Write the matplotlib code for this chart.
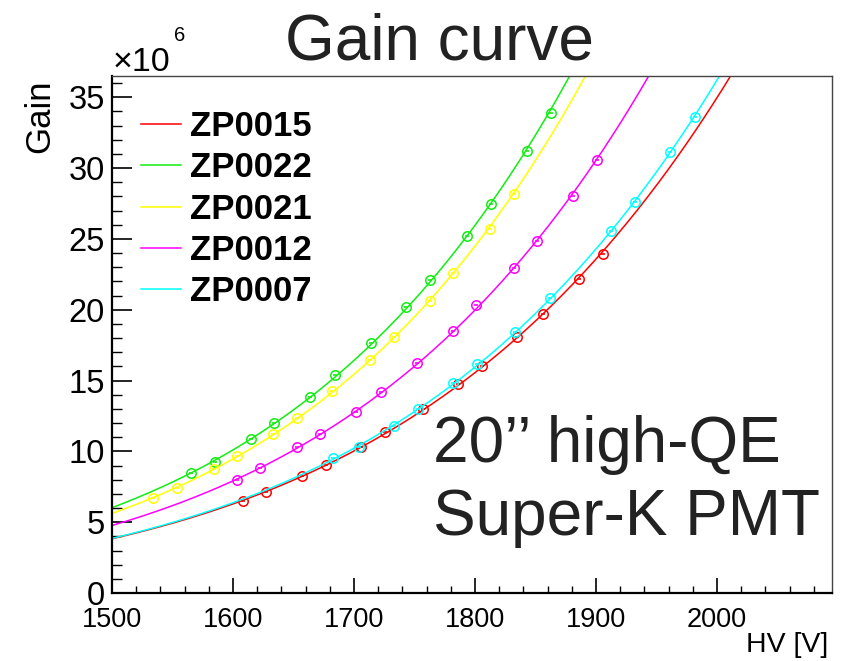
# PMT gain curves (gain vs HV) with power-law fits

import numpy as np
import matplotlib.pyplot as plt
from matplotlib.ticker import MultipleLocator

plt.rcParams['font.family'] = ['Liberation Sans', 'DejaVu Sans']

# data (gain in units of 1e6)
names = ['ZP0015', 'ZP0022', 'ZP0021', 'ZP0012', 'ZP0007']
colors = ['#ff0000', '#11ee11', '#ffff00', '#ff00ff', '#00ffff']

hv_zp0015 = [1608, 1627, 1657, 1677, 1706, 1726, 1757, 1786, 1806, 1835, 1856, 1886, 1906]
gain_zp0015 = [6.49, 7.11, 8.26, 9.05, 10.28, 11.34, 13.01, 14.73, 16.04, 18.09, 19.67, 22.14, 23.96]

hv_zp0022 = [1565, 1585, 1615, 1634, 1664, 1684, 1714, 1743, 1763, 1793, 1813, 1843, 1863]
gain_zp0022 = [8.45, 9.27, 10.89, 11.97, 13.81, 15.36, 17.62, 20.18, 22.09, 25.22, 27.43, 31.24, 33.92]

hv_zp0021 = [1534, 1554, 1584, 1603, 1633, 1653, 1682, 1713, 1733, 1763, 1782, 1812, 1832]
gain_zp0021 = [6.68, 7.43, 8.73, 9.67, 11.20, 12.37, 14.28, 16.44, 18.09, 20.63, 22.56, 25.72, 28.14]

hv_zp0012 = [1603, 1622, 1653, 1672, 1702, 1722, 1752, 1782, 1801, 1832, 1851, 1881, 1901]
gain_zp0012 = [7.97, 8.80, 10.28, 11.20, 12.75, 14.21, 16.23, 18.49, 20.30, 22.92, 24.82, 28.02, 30.58]

hv_zp0007 = [1683, 1704, 1733, 1753, 1782, 1802, 1833, 1862, 1912, 1932, 1961, 1982]
gain_zp0007 = [9.51, 10.32, 11.81, 12.96, 14.80, 16.16, 18.40, 20.80, 25.58, 27.61, 31.10, 33.61]

series = [(hv_zp0015, gain_zp0015), (hv_zp0022, gain_zp0022), (hv_zp0021, gain_zp0021),
          (hv_zp0012, gain_zp0012), (hv_zp0007, gain_zp0007)]

fig = plt.figure(figsize=(8.42, 6.61), dpi=100)
ax = fig.add_axes([112/842, 68/661, 720/842, 517/661])

hv_fine = np.linspace(1500, 2095, 400)
for (hv, gain), name, col in zip(series, names, colors):
    hv = np.array(hv, dtype=float)
    gain = np.array(gain)
    # power-law fit  G = a * HV^n
    n, loga = np.polyfit(np.log(hv), np.log(gain), 1)
    ax.plot(hv_fine, np.exp(loga) * hv_fine**n, '-', color=col, lw=1.1, label=name)
    ax.plot(hv, gain, 'o', mfc='none', mec=col, mew=1.1, ms=6.8)
    ax.plot(hv, gain, '_', color=col, ms=3, mew=1.2)

ax.set_xlim(1500, 2095)
ax.set_ylim(0, 36.5)
ax.xaxis.set_major_locator(MultipleLocator(100))
ax.xaxis.set_minor_locator(MultipleLocator(20))
ax.yaxis.set_major_locator(MultipleLocator(5))
ax.yaxis.set_minor_locator(MultipleLocator(1))
ax.tick_params(axis='x', which='major', direction='in', length=10.8, width=1.2, labelsize=19.5, pad=10)
ax.tick_params(axis='x', which='minor', direction='in', length=5, width=1.0)
ax.tick_params(axis='y', which='major', direction='in', length=14.4, width=1.2, labelsize=23.5, pad=5)
ax.tick_params(axis='y', which='minor', direction='in', length=7.2, width=1.0)
for s in ['left', 'bottom']:
    ax.spines[s].set_linewidth(1.6)
for s in ['top', 'right']:
    ax.spines[s].set_linewidth(1.0)
    ax.spines[s].set_color('#444444')

leg = ax.legend(loc='upper left', bbox_to_anchor=(141/842, 1 - 110/661), bbox_transform=fig.transFigure,
                frameon=False, prop={'weight': 'bold', 'size': 25}, handlelength=1.15,
                handletextpad=0.25, labelspacing=0.24, borderpad=0, borderaxespad=0)

fig.text(439.5/842, 1 - 60/661, 'Gain curve', ha='center', va='baseline', size=46, color='#222222')
fig.text(113/842, 1 - 71/661, '×10', ha='left', va='baseline', size=24.5)
fig.text(174/842, 1 - 41/661, '6', ha='left', va='baseline', size=14.5)
fig.text(40/842, 1 - 116.5/661, 'Gain', rotation=90, ha='center', va='center', size=25)
fig.text(828/842, 1 - 652/661, 'HV [V]', ha='right', va='baseline', size=20.5)

fig.text(433/842, 1 - 462/661, '20’’ high-QE', ha='left', va='baseline', size=46, color='#222222')
fig.text(433/842, 1 - 535/661, 'Super-K PMT', ha='left', va='baseline', size=46, color='#222222')

fig.savefig('out.png', dpi=100)
